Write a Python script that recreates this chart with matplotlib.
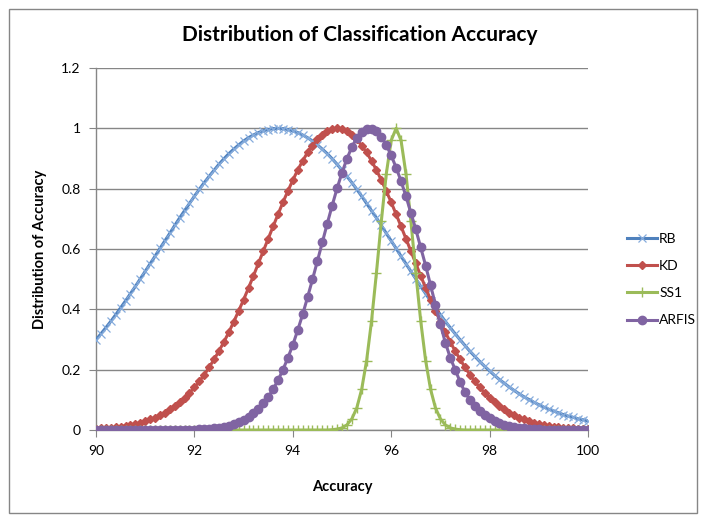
import matplotlib
matplotlib.use("Agg")
import matplotlib.pyplot as plt
from matplotlib.patches import Rectangle

plt.rcParams["font.family"] = ["Lato", "DejaVu Sans"]

# accuracy grid (0.1 steps)
accuracy = [
    90.0, 90.1, 90.2, 90.3, 90.4, 90.5, 90.6, 90.7, 90.8, 90.9,
    91.0, 91.1, 91.2, 91.3, 91.4, 91.5, 91.6, 91.7, 91.8, 91.9,
    92.0, 92.1, 92.2, 92.3, 92.4, 92.5, 92.6, 92.7, 92.8, 92.9,
    93.0, 93.1, 93.2, 93.3, 93.4, 93.5, 93.6, 93.7, 93.8, 93.9,
    94.0, 94.1, 94.2, 94.3, 94.4, 94.5, 94.6, 94.7, 94.8, 94.9,
    95.0, 95.1, 95.2, 95.3, 95.4, 95.5, 95.6, 95.7, 95.8, 95.9,
    96.0, 96.1, 96.2, 96.3, 96.4, 96.5, 96.6, 96.7, 96.8, 96.9,
    97.0, 97.1, 97.2, 97.3, 97.4, 97.5, 97.6, 97.7, 97.8, 97.9,
    98.0, 98.1, 98.2, 98.3, 98.4, 98.5, 98.6, 98.7, 98.8, 98.9,
    99.0, 99.1, 99.2, 99.3, 99.4, 99.5, 99.6, 99.7, 99.8, 99.9,
    100.0,
]

rb = [
    0.299, 0.319, 0.339, 0.360, 0.382, 0.405, 0.428, 0.452, 0.476, 0.501,
    0.526, 0.551, 0.576, 0.602, 0.627, 0.652, 0.678, 0.703, 0.727, 0.751,
    0.775, 0.798, 0.820, 0.841, 0.861, 0.881, 0.899, 0.916, 0.931, 0.945,
    0.958, 0.969, 0.978, 0.986, 0.992, 0.996, 0.999, 1.000, 0.999, 0.996,
    0.992, 0.986, 0.978, 0.969, 0.958, 0.945, 0.931, 0.916, 0.899, 0.881,
    0.861, 0.841, 0.820, 0.798, 0.775, 0.751, 0.727, 0.703, 0.678, 0.652,
    0.627, 0.602, 0.576, 0.551, 0.526, 0.501, 0.476, 0.452, 0.428, 0.405,
    0.382, 0.360, 0.339, 0.319, 0.299, 0.280, 0.261, 0.244, 0.227, 0.211,
    0.196, 0.181, 0.167, 0.155, 0.142, 0.131, 0.120, 0.110, 0.101, 0.092,
    0.084, 0.076, 0.069, 0.063, 0.057, 0.051, 0.046, 0.042, 0.037, 0.034,
    0.030,
]

kd = [
    0.004, 0.005, 0.006, 0.007, 0.009, 0.011, 0.014, 0.017, 0.020, 0.024,
    0.029, 0.035, 0.041, 0.049, 0.058, 0.068, 0.079, 0.092, 0.107, 0.123,
    0.141, 0.161, 0.183, 0.208, 0.234, 0.262, 0.292, 0.324, 0.359, 0.395,
    0.432, 0.471, 0.511, 0.552, 0.593, 0.634, 0.675, 0.715, 0.755, 0.792,
    0.828, 0.862, 0.892, 0.920, 0.943, 0.963, 0.979, 0.991, 0.998, 1.000,
    0.998, 0.991, 0.979, 0.963, 0.943, 0.920, 0.892, 0.862, 0.828, 0.792,
    0.755, 0.715, 0.675, 0.634, 0.593, 0.552, 0.511, 0.471, 0.432, 0.395,
    0.359, 0.324, 0.292, 0.262, 0.234, 0.208, 0.183, 0.161, 0.141, 0.123,
    0.107, 0.092, 0.079, 0.068, 0.058, 0.049, 0.041, 0.035, 0.029, 0.024,
    0.020, 0.017, 0.014, 0.011, 0.009, 0.007, 0.006, 0.005, 0.004, 0.003,
    0.002,
]

ss1 = [
    0.000, 0.000, 0.000, 0.000, 0.000, 0.000, 0.000, 0.000, 0.000, 0.000,
    0.000, 0.000, 0.000, 0.000, 0.000, 0.000, 0.000, 0.000, 0.000, 0.000,
    0.000, 0.000, 0.000, 0.000, 0.000, 0.000, 0.000, 0.000, 0.000, 0.000,
    0.000, 0.000, 0.000, 0.000, 0.000, 0.000, 0.000, 0.000, 0.000, 0.000,
    0.000, 0.000, 0.000, 0.000, 0.000, 0.000, 0.000, 0.000, 0.001, 0.003,
    0.007, 0.017, 0.037, 0.073, 0.135, 0.230, 0.361, 0.521, 0.693, 0.849,
    0.960, 1.000, 0.960, 0.849, 0.693, 0.521, 0.361, 0.230, 0.135, 0.073,
    0.037, 0.017, 0.007, 0.003, 0.001, 0.000, 0.000, 0.000, 0.000, 0.000,
    0.000, 0.000, 0.000, 0.000, 0.000, 0.000, 0.000, 0.000, 0.000, 0.000,
    0.000, 0.000, 0.000, 0.000, 0.000, 0.000, 0.000, 0.000, 0.000, 0.000,
    0.000,
]

arfis = [
    0.000, 0.000, 0.000, 0.000, 0.000, 0.000, 0.000, 0.000, 0.000, 0.000,
    0.000, 0.000, 0.000, 0.000, 0.000, 0.000, 0.000, 0.000, 0.001, 0.001,
    0.001, 0.002, 0.003, 0.004, 0.005, 0.007, 0.010, 0.014, 0.019, 0.025,
    0.033, 0.042, 0.055, 0.070, 0.088, 0.109, 0.135, 0.165, 0.200, 0.239,
    0.282, 0.331, 0.383, 0.440, 0.499, 0.560, 0.622, 0.684, 0.744, 0.801,
    0.853, 0.899, 0.938, 0.968, 0.988, 0.999, 0.999, 0.990, 0.972, 0.945,
    0.910, 0.870, 0.825, 0.775, 0.720, 0.665, 0.605, 0.545, 0.480, 0.415,
    0.350, 0.290, 0.240, 0.200, 0.160, 0.125, 0.100, 0.080, 0.063, 0.050,
    0.040, 0.031, 0.024, 0.018, 0.014, 0.010, 0.007, 0.005, 0.004, 0.003,
    0.002, 0.001, 0.001, 0.001, 0.000, 0.000, 0.000, 0.000, 0.000, 0.000,
    0.000,
]

series_names = ["RB", "KD", "SS1", "ARFIS"]
x_ticks = [90, 92, 94, 96, 98, 100]
y_ticks = [0, 0.2, 0.4, 0.6, 0.8, 1.0, 1.2]
y_tick_labels = ["0", "0.2", "0.4", "0.6", "0.8", "1", "1.2"]

W, H = 701, 515
fig = plt.figure(figsize=(W / 100, H / 100), dpi=100)
ax = fig.add_axes([96 / W, 1 - 430 / H, (588 - 96) / W, (430 - 68) / H])

grid_col = "#868686"

# series, drawn in Excel order
ax.plot(accuracy, rb, color="#4F81BD", lw=2.2, marker="x", ms=5.5,
        mec="#86ACDC", mew=0.9, label=series_names[0], zorder=3)
ax.plot(accuracy, kd, color="#C0504D", lw=2.2, marker="D", ms=3.6,
        mec="#C0504D", mfc="#C0504D", label=series_names[1], zorder=4)
ax.plot(accuracy, ss1, color="#9BBB59", lw=2.2, marker="+", ms=7,
        mec="#9BBB59", mew=1.0, label=series_names[2], zorder=5)
ax.plot(accuracy, arfis, color="#8064A2", lw=2.2, marker="o", ms=6,
        mec="#8064A2", mfc="#8064A2", label=series_names[3], zorder=6)

ax.set_xlim(90, 100)
ax.set_ylim(0, 1.2)
ax.set_xticks(x_ticks)
ax.set_xticklabels([str(t) for t in x_ticks])
ax.set_yticks(y_ticks)
ax.set_yticklabels(y_tick_labels)

ax.yaxis.grid(True, color=grid_col, lw=1.0)
ax.set_axisbelow(True)
for s in ["top", "right"]:
    ax.spines[s].set_visible(False)
for s in ["left", "bottom"]:
    ax.spines[s].set_color(grid_col)
    ax.spines[s].set_linewidth(1.0)
ax.tick_params(axis="both", direction="out", length=5, color=grid_col,
               labelsize=10, labelcolor="black")
ax.tick_params(axis="x", pad=6)
ax.tick_params(axis="y", pad=6)

# texts
fig.text(360 / W, 1 - 35 / H, "Distribution of Classification Accuracy",
         ha="center", va="center", fontsize=15, fontweight="bold")
fig.text(342 / W, 1 - 487 / H, "Accuracy", ha="center", va="center",
         fontsize=10.5, fontweight="bold")
fig.text(40 / W, 1 - 249 / H, "Distribution of Accuracy", ha="center",
         va="center", rotation=90, fontsize=10.5, fontweight="bold")

ax.legend(loc="upper left", bbox_to_anchor=(621 / W, 1 - 227 / H),
          bbox_transform=fig.transFigure, frameon=False, fontsize=10,
          handlelength=2.2, handletextpad=0.15, labelspacing=1.1,
          borderaxespad=0, markerscale=1.0)

# chart border
fig.add_artist(Rectangle((9 / W, 1 - 513 / H), (697 - 9) / W, (513 - 9) / H,
                         transform=fig.transFigure, fill=False,
                         ec=grid_col, lw=1.0))

fig.savefig("out.png", dpi=100)
